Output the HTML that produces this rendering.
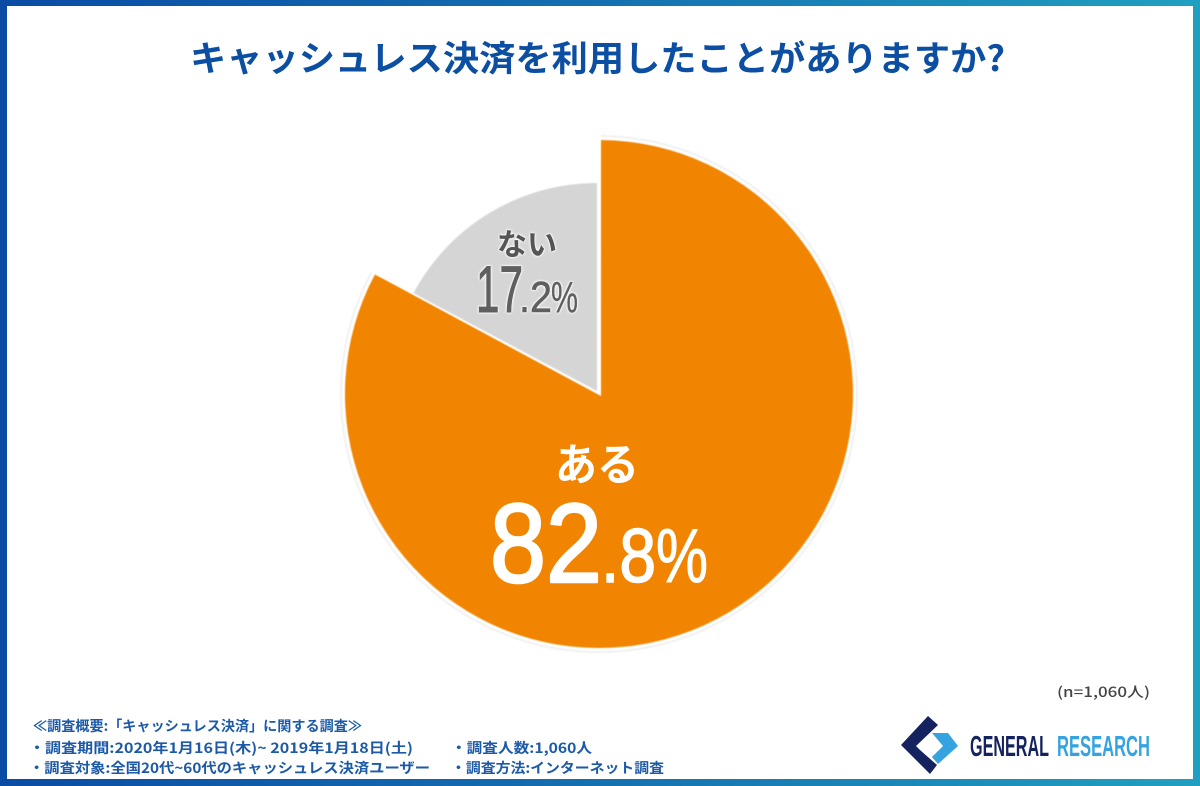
<!DOCTYPE html>
<html lang="ja">
<head>
<meta charset="utf-8">
<title>キャッシュレス決済を利用したことがありますか?</title>
<style>
html,body{margin:0;padding:0;background:#fff;}
svg{display:block;}
text{font-family:"Liberation Sans","Noto Sans CJK JP",sans-serif;}
.jp{font-family:"Noto Sans CJK JP","Liberation Sans",sans-serif;}
.note{font-size:14px;fill:#1d5aa8;font-weight:700;}
.halo{filter:drop-shadow(0 0 1px #fff) drop-shadow(0 0 1px #fff);}
</style>
</head>
<body>
<svg id="chart" xmlns="http://www.w3.org/2000/svg" width="1200" height="786" viewBox="0 0 1200 786">
  <defs>
    <linearGradient id="frameGrad" x1="0" y1="0" x2="1" y2="0">
      <stop offset="0" stop-color="#0a4ca4"/>
      <stop offset="0.5" stop-color="#1470b0"/>
      <stop offset="1" stop-color="#20a0c0"/>
    </linearGradient>
    <filter id="soft" x="-5%" y="-5%" width="110%" height="110%"><feGaussianBlur stdDeviation="0.5"/></filter>
    <filter id="softText" x="-2%" y="-10%" width="104%" height="120%"><feGaussianBlur stdDeviation="0.35"/></filter>
  </defs>
  <rect x="0" y="0" width="1200" height="786" fill="url(#frameGrad)"/>
  <rect x="7" y="6" width="1186" height="773" fill="#fff"/>

  <text class="jp" x="190" y="71" font-size="35" font-weight="700" fill="#0b4ea2" textLength="815" lengthAdjust="spacingAndGlyphs">キャッシュレス決済を利用したことがありますか?</text>

  <g id="slices" filter="url(#soft)"></g>
  <g id="labels"></g>

  <text class="jp" x="1057" y="697" font-size="14" font-weight="500" fill="#444" textLength="93" lengthAdjust="spacingAndGlyphs">(n=1,060人)</text>

  <g filter="url(#softText)">
    <text class="jp note" x="33" y="731" textLength="329" lengthAdjust="spacingAndGlyphs">≪調査概要:「キャッシュレス決済」に関する調査≫</text>
    <text class="jp note" x="29" y="753" textLength="384" lengthAdjust="spacingAndGlyphs">・調査期間:2020年1月16日(木)~ 2019年1月18日(土)</text>
    <text class="jp note" x="451" y="753" textLength="141" lengthAdjust="spacingAndGlyphs">・調査人数:1,060人</text>
    <text class="jp note" x="29" y="773" textLength="401" lengthAdjust="spacingAndGlyphs">・調査対象:全国20代~60代のキャッシュレス決済ユーザー</text>
    <text class="jp note" x="451" y="773" textLength="213" lengthAdjust="spacingAndGlyphs">・調査方法:インターネット調査</text>
  </g>

  <g>
    <polygon fill="#14235f" points="901,745 928,716 938,725 916,746 920,750 937,765 930,774 926,770"/>
    <polygon fill="#35a3e0" points="932,733 948,733 958,746 938,764 932,757 943,746 938,740"/>
    <text x="970" y="756" font-size="29" font-weight="700" fill="#14235f" textLength="79" lengthAdjust="spacingAndGlyphs">GENERAL</text>
    <text x="1057" y="756" font-size="29" font-weight="700" fill="#35a3e0" textLength="93" lengthAdjust="spacingAndGlyphs">RESEARCH</text>
  </g>
</svg>
<script>
const categories = ['ある', 'ない'];
const shareValues = [82.8, 17.2];

const NS = 'http://www.w3.org/2000/svg';
const slicesLayer = document.getElementById('slices');
const labelsLayer = document.getElementById('labels');
const total = shareValues.reduce(function (a, b) { return a + b; }, 0);

function angleFor(share) { return share / total * 2 * Math.PI; }
function polar(cx, cy, r, a) { return [cx + r * Math.sin(a), cy - r * Math.cos(a)]; }
function arcPath(apex, c, r, a0, a1) {
  const p0 = polar(c[0], c[1], r, a0);
  const p1 = polar(c[0], c[1], r, a1);
  const large = a1 - a0 > Math.PI ? 1 : 0;
  return 'M' + apex[0] + ' ' + apex[1] + 'L' + p0[0] + ' ' + p0[1] +
    'A' + r + ' ' + r + ' 0 ' + large + ' 1 ' + p1[0] + ' ' + p1[1] + 'Z';
}
function addText(str, x, y, size, weight, fill, len, thicken, jp, halo) {
  const t = document.createElementNS(NS, 'text');
  t.textContent = str;
  t.setAttribute('x', x);
  t.setAttribute('y', y);
  t.setAttribute('font-size', size);
  t.setAttribute('font-weight', weight);
  t.setAttribute('fill', fill);
  t.setAttribute('textLength', len);
  t.setAttribute('lengthAdjust', 'spacingAndGlyphs');
  const cls = [];
  if (jp) cls.push('jp');
  if (halo) cls.push('halo');
  if (cls.length) t.setAttribute('class', cls.join(' '));
  if (thicken) {
    t.setAttribute('stroke', fill);
    t.setAttribute('stroke-width', thicken);
    t.setAttribute('stroke-linejoin', 'round');
  }
  labelsLayer.appendChild(t);
  return t;
}

const orangeEnd = angleFor(shareValues[0]);

/* faint halo around the large slice */
const haloArc = document.createElementNS(NS, 'path');
const h0 = polar(599, 394, 258, 0.008);
const h1 = polar(599, 394, 258, orangeEnd);
haloArc.setAttribute('d', 'M' + h0[0] + ' ' + h0[1] + 'A258 258 0 1 1 ' + h1[0] + ' ' + h1[1]);
haloArc.setAttribute('fill', 'none');
haloArc.setAttribute('stroke', '#f1f1f1');
haloArc.setAttribute('stroke-width', '2');


slicesLayer.appendChild(haloArc);

const sliceA = document.createElementNS(NS, 'path');
sliceA.setAttribute('d', arcPath([601, 396], [599, 394], 254, 0.008, orangeEnd));
sliceA.setAttribute('fill', '#f18400');


slicesLayer.appendChild(sliceA);

const sliceB = document.createElementNS(NS, 'path');
sliceB.setAttribute('d', arcPath([597, 391], [597, 391], 208, orangeEnd, 2 * Math.PI));
sliceB.setAttribute('fill', '#d5d5d6');


slicesLayer.appendChild(sliceB);

const partsA = shareValues[0].toFixed(1).split('.');
const partsB = shareValues[1].toFixed(1).split('.');

const catA = addText(categories[0], 555, 480, 44, 700, '#fff', 84, 0, true, false);



const bigA = addText(partsA[0], 490, 582, 112, 400, '#fff', 112, 2.5, false, false);



const dotA = addText('.' + partsA[1], 601, 582, 76, 400, '#fff', 55, 1.5, false, false);



const pctA = addText('%', 656, 582, 76, 400, '#fff', 52, 1, false, false);



const catB = addText(categories[1], 497, 255, 30, 700, '#555', 60, 0, true, true);



const bigB = addText(partsB[0], 476, 312, 66, 400, '#5f5f5f', 47, 1, false, true);



const dotB = addText('.' + partsB[1], 519, 312, 44, 400, '#5f5f5f', 33, 0.6, false, true);



const pctB = addText('%', 551, 312, 44, 400, '#5f5f5f', 27, 0.4, false, true);


</script>
</body>
</html>
